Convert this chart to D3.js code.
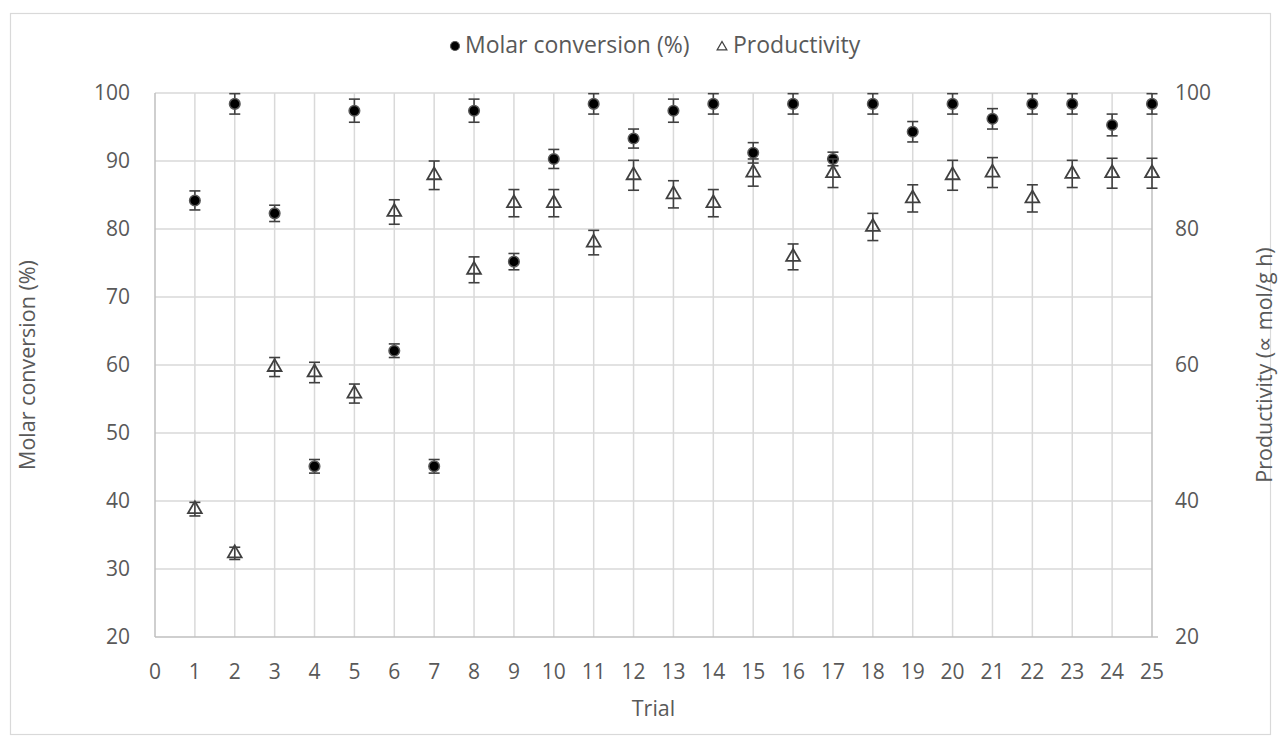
<!DOCTYPE html>
<html lang="en">
<head>
    <meta charset="UTF-8">
    <title>Molar conversion and productivity by trial</title>
    <script src="https://d3js.org/d3.v7.min.js"></script>
    <style>
        body {
            margin: 0;
            background-color: #fff;
            font-family: "Open Sans", sans-serif;
        }
        .tick-label {
            font-size: 21px;
            fill: #595959;
        }
        .axis-title {
            font-size: 21.5px;
            fill: #595959;
        }
        .legend-label {
            font-size: 23px;
            fill: #595959;
        }
        .grid line {
            stroke: #d9d9d9;
            stroke-width: 1.5px;
        }
        .err {
            stroke: #404040;
            stroke-width: 1.6px;
        }
    </style>
</head>
<body>
    <svg width="1281" height="744"></svg>

    <script>
        // Values
        const trials = d3.range(1, 26);
        const conversion = [84.2, 98.4, 82.3, 45.1, 97.4, 62.1, 45.1, 97.4, 75.2, 90.3, 98.4, 93.3, 97.4,
                            98.4, 91.2, 98.4, 90.3, 98.4, 94.3, 98.4, 96.2, 98.4, 98.4, 95.3, 98.4];
        const conversionErr = [1.4, 1.5, 1.2, 1.0, 1.7, 1.0, 1.0, 1.7, 1.2, 1.4, 1.5, 1.4, 1.7,
                               1.5, 1.5, 1.5, 1.0, 1.5, 1.5, 1.5, 1.5, 1.5, 1.5, 1.6, 1.5];
        const productivity = [38.8, 32.3, 59.7, 58.9, 55.8, 82.5, 87.9, 74.0, 83.8, 83.8, 78.0, 87.9, 85.1,
                              83.8, 88.3, 75.9, 88.2, 80.3, 84.5, 87.9, 88.3, 84.5, 88.1, 88.2, 88.2];
        const productivityErr = [1.0, 0.9, 1.4, 1.5, 1.4, 1.8, 2.1, 1.9, 2.0, 2.0, 1.8, 2.2, 2.0,
                                 2.0, 2.0, 1.9, 2.1, 2.0, 2.0, 2.2, 2.2, 2.0, 2.0, 2.2, 2.2];
        const xTicks = d3.range(0, 26);
        const leftTicks = [20, 30, 40, 50, 60, 70, 80, 90, 100];
        const rightTicks = [20, 40, 60, 80, 100];

        const plotLeft = 155, plotRight = 1152, plotTop = 93, plotBottom = 637;

        const svg = d3.select("svg");

        // chart frame
        svg.append("rect")
            .attr("x", 10.5).attr("y", 13.5)
            .attr("width", 1260).attr("height", 721)
            .attr("fill", "#fff")
            .attr("stroke", "#d9d9d9")
            .attr("stroke-width", 1.2);

        const x = d3.scaleLinear().domain([0, 25]).range([plotLeft, plotRight]);
        const yL = d3.scaleLinear().domain([20, 100]).range([plotBottom, plotTop]);
        const yR = d3.scaleLinear().domain([20, 100]).range([plotBottom, plotTop]);

        // gridlines
        const grid = svg.append("g").attr("class", "grid");
        grid.selectAll(".h")
            .data(leftTicks.filter(d => d > 20))
            .enter().append("line")
            .attr("x1", plotLeft).attr("x2", plotRight)
            .attr("y1", d => yL(d)).attr("y2", d => yL(d));
        grid.selectAll(".v")
            .data(xTicks.filter(d => d > 0 && d < 25))
            .enter().append("line")
            .attr("x1", d => x(d)).attr("x2", d => x(d))
            .attr("y1", plotTop).attr("y2", plotBottom);

        // axis lines
        svg.append("line")
            .attr("x1", plotLeft).attr("x2", plotLeft).attr("y1", plotTop).attr("y2", plotBottom)
            .attr("stroke", "#bfbfbf").attr("stroke-width", 1.5);
        svg.append("line")
            .attr("x1", plotRight).attr("x2", plotRight).attr("y1", plotTop).attr("y2", plotBottom)
            .attr("stroke", "#bfbfbf").attr("stroke-width", 1.5);
        svg.append("line")
            .attr("x1", plotLeft).attr("x2", plotRight + 6).attr("y1", plotBottom).attr("y2", plotBottom)
            .attr("stroke", "#bfbfbf").attr("stroke-width", 1.5);

        // tick labels
        svg.selectAll(".xl")
            .data(xTicks)
            .enter().append("text")
            .attr("class", "tick-label")
            .attr("x", d => x(d))
            .attr("y", 672)
            .attr("dy", "0.35em")
            .attr("text-anchor", "middle")
            .text(d => d);
        svg.selectAll(".yl")
            .data(leftTicks)
            .enter().append("text")
            .attr("class", "tick-label")
            .attr("x", 130)
            .attr("y", d => yL(d))
            .attr("dy", "0.35em")
            .attr("text-anchor", "end")
            .text(d => d);
        svg.selectAll(".yr")
            .data(rightTicks)
            .enter().append("text")
            .attr("class", "tick-label")
            .attr("x", 1175)
            .attr("y", d => yR(d))
            .attr("dy", "0.35em")
            .attr("text-anchor", "start")
            .text(d => d);

        // axis titles
        svg.append("text")
            .attr("class", "axis-title")
            .attr("x", (plotLeft + plotRight) / 2)
            .attr("y", 708)
            .attr("dy", "0.35em")
            .attr("text-anchor", "middle")
            .text("Trial");
        svg.append("text")
            .attr("class", "axis-title")
            .attr("transform", `translate(27,${(plotTop + plotBottom) / 2}) rotate(-90)`)
            .attr("dy", "0.35em")
            .attr("text-anchor", "middle")
            .text("Molar conversion (%)");
        svg.append("text")
            .attr("class", "axis-title")
            .attr("transform", `translate(1264,${(plotTop + plotBottom) / 2}) rotate(-90)`)
            .attr("dy", "0.35em")
            .attr("text-anchor", "middle")
            .text("Productivity (\u221d mol/g h)");

        const cap = 5.5;
        function errorBars(vals, errs, y) {
            const g = svg.append("g").attr("class", "err");
            trials.forEach((t, i) => {
                const cx = x(t), hi = y(vals[i] + errs[i]), lo = y(vals[i] - errs[i]);
                g.append("line").attr("x1", cx).attr("x2", cx).attr("y1", hi).attr("y2", lo);
                g.append("line").attr("x1", cx - cap).attr("x2", cx + cap).attr("y1", hi).attr("y2", hi);
                g.append("line").attr("x1", cx - cap).attr("x2", cx + cap).attr("y1", lo).attr("y2", lo);
            });
        }

        const tri = d3.symbol().type(d3.symbolTriangle).size(82);

        // molar conversion
        errorBars(conversion, conversionErr, yL);
        svg.selectAll(".dot")
            .data(trials)
            .enter().append("circle")
            .attr("cx", d => x(d))
            .attr("cy", (d, i) => yL(conversion[i]))
            .attr("r", 5.3)
            .attr("fill", "#000")
            .attr("stroke", "#595959")
            .attr("stroke-width", 1.5);

        // productivity
        errorBars(productivity, productivityErr, yR);
        svg.selectAll(".tri")
            .data(trials)
            .enter().append("path")
            .attr("d", tri)
            .attr("transform", (d, i) => `translate(${x(d)},${yR(productivity[i])})`)
            .attr("fill", "none")
            .attr("stroke", "#404040")
            .attr("stroke-width", 1.8);

        // legend
        const legend = svg.append("g");
        legend.append("circle")
            .attr("cx", 455).attr("cy", 46).attr("r", 4.5)
            .attr("fill", "#000").attr("stroke", "#595959").attr("stroke-width", 1.2);
        legend.append("text")
            .attr("class", "legend-label")
            .attr("x", 465).attr("y", 45).attr("dy", "0.35em")
            .text("Molar conversion (%)");
        legend.append("path")
            .attr("d", d3.symbol().type(d3.symbolTriangle).size(40))
            .attr("transform", "translate(722,47)")
            .attr("fill", "none").attr("stroke", "#404040").attr("stroke-width", 1.3);
        legend.append("text")
            .attr("class", "legend-label")
            .attr("x", 733).attr("y", 45).attr("dy", "0.35em")
            .text("Productivity");
    </script>
</body>
</html>
